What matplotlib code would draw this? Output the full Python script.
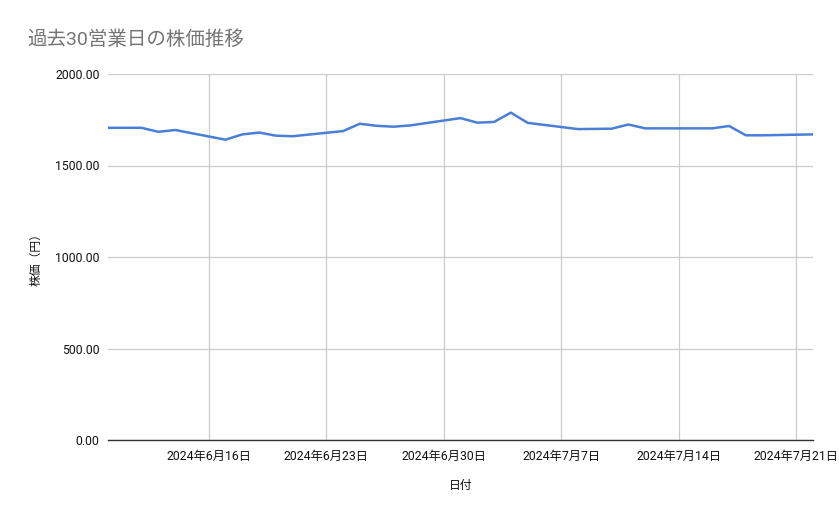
import matplotlib
matplotlib.use("Agg")
import matplotlib.pyplot as plt
import matplotlib.dates as mdates
import pandas as pd

plt.rcParams['font.family'] = ['Roboto', 'Noto Sans CJK JP', 'DejaVu Sans']

dates = ["2024-06-10", "2024-06-11", "2024-06-12", "2024-06-13", "2024-06-14",
         "2024-06-17", "2024-06-18", "2024-06-19", "2024-06-20", "2024-06-21",
         "2024-06-24", "2024-06-25", "2024-06-26", "2024-06-27", "2024-06-28",
         "2024-07-01", "2024-07-02", "2024-07-03", "2024-07-04", "2024-07-05",
         "2024-07-08", "2024-07-09", "2024-07-10", "2024-07-11", "2024-07-12",
         "2024-07-16", "2024-07-17", "2024-07-18", "2024-07-19", "2024-07-22"]
prices = [1706, 1706, 1706, 1684, 1694,
          1641, 1670, 1680, 1663, 1660,
          1688, 1728, 1717, 1712, 1719,
          1759, 1734, 1738, 1789, 1733,
          1699, 1700, 1701, 1724, 1703,
          1703, 1716, 1665, 1665, 1670]
y_ticks = [0, 500, 1000, 1500, 2000]
x_ticks = ["2024-06-16", "2024-06-23", "2024-06-30", "2024-07-07", "2024-07-14", "2024-07-21"]

title = "過去30営業日の株価推移"
x_label = "日付"
y_label = "株価（円）"

d = pd.to_datetime(dates)
xt = pd.to_datetime(x_ticks)

fig = plt.figure(figsize=(8.39, 5.19), dpi=100)
ax = fig.add_axes([108/839, 1-440/519, (813-108)/839, (440-74)/519])

ax.plot(d, prices, color="#4a7fd6", linewidth=1.8, solid_joinstyle="round", zorder=3)

ax.set_xlim(pd.Timestamp("2024-06-10"), pd.Timestamp("2024-07-22"))
ax.set_ylim(0, 2000)
ax.set_yticks(y_ticks)
ax.set_yticklabels([f"{v:.2f}" for v in y_ticks])
ax.set_xticks(xt)
ax.set_xticklabels([f"{t.year}年{t.month}月{t.day}日" for t in xt])

ax.grid(True, color="#cccccc", linewidth=0.9, zorder=0)
for s in ["top", "right", "left"]:
    ax.spines[s].set_visible(False)
ax.spines["bottom"].set_color("#333333")
ax.spines["bottom"].set_linewidth(1.0)
ax.spines["bottom"].set_zorder(4)
ax.tick_params(axis="both", length=0, labelsize=8.8, colors="#111111")
ax.tick_params(axis="y", pad=6)
ax.tick_params(axis="x", pad=7)

ax.set_xlabel(x_label, fontsize=8.5, color="#111111", labelpad=12)
ax.set_ylabel(y_label, fontsize=8.5, color="#111111", labelpad=9)

fig.text(27/839, 1-40/519, title, fontsize=14, color="#757575", ha="left", va="center")

fig.savefig("out.png", dpi=100)
